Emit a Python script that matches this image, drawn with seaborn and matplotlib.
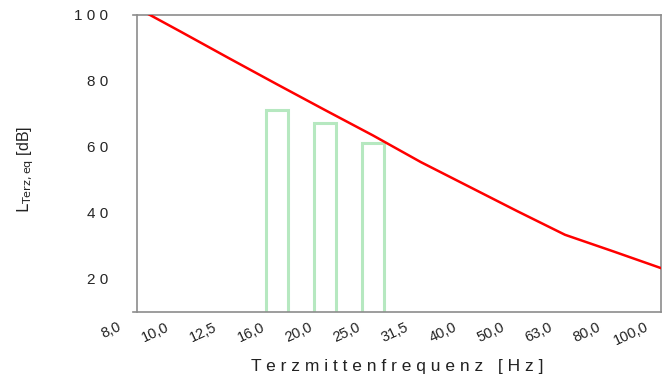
import numpy as np
import pandas as pd
import matplotlib
matplotlib.use("Agg")
import matplotlib.pyplot as plt
import matplotlib.transforms as mtransforms
import seaborn as sns

# ---- data ----
freq_labels = ["8,0", "10,0", "12,5", "16,0", "20,0", "25,0", "31,5",
               "40,0", "50,0", "63,0", "80,0", "100,0"]
threshold_db = [102.8, 94.9, 86.9, 79.0, 71.2, 63.5, 55.4,
                48.0, 40.6, 33.4, 28.4, 23.3]
bar_labels = ["16,0", "20,0", "25,0"]
bar_db = [71.1, 67.2, 61.1]
y_ticks = [20, 40, 60, 80, 100]
y_tick_labels = ["2 0", "4 0", "6 0", "8 0", "1 0 0"]

sns.set_theme(style="white")
plt.rcParams["font.family"] = ["Liberation Sans", "DejaVu Sans"]

fig = plt.figure(figsize=(6.69, 3.81), dpi=100)
ax = fig.add_axes([133 / 669, 1 - 312 / 381, (661 - 133) / 669, (312 - 15) / 381])

bars = pd.DataFrame({"freq": bar_labels, "level": bar_db})
sns.barplot(data=bars, x="freq", y="level", order=freq_labels, ax=ax,
            fill=False, color="#b6e8c0", linewidth=2.2, width=0.44, errorbar=None)

line = pd.DataFrame({"pos": np.arange(len(freq_labels)), "level": threshold_db})
sns.lineplot(data=line, x="pos", y="level", ax=ax, color="#ff0000", linewidth=1.8,
             zorder=5)

ax.set_xlim(0, len(freq_labels) - 1)
ax.set_ylim(10, 100)
ax.set_xticks(np.arange(len(freq_labels)))
ax.set_xticklabels([])
# rotated category labels, right end slightly left of each tick
lbl_trans = ax.get_xaxis_transform() + mtransforms.ScaledTranslation(
    -10 / 100, -8 / 100, fig.dpi_scale_trans)
for i, lab in enumerate(freq_labels):
    ax.text(i, 0, lab, transform=lbl_trans, rotation=25, ha="right", va="top",
            rotation_mode="default", fontsize=10.5, color="#222222")

ax.set_yticks(y_ticks)
ax.set_yticklabels(y_tick_labels, fontsize=11, color="#222222")

ax.spines["left"].set_position(("data", 4 / 48))
for s in ["left", "right", "top", "bottom"]:
    ax.spines[s].set_visible(True)
    ax.spines[s].set_color("#8c8c8c")
    ax.spines[s].set_linewidth(1.2)

ax.tick_params(axis="x", direction="out", length=5, width=1.2, color="#8c8c8c", pad=3)
ax.tick_params(axis="y", direction="out", length=7, width=1.2, color="#8c8c8c", pad=14)
ax.grid(False)

ax.set_xlabel("T e r z m i t t e n f r e q u e n z   [ H z ]", fontsize=12.5,
              color="#222222", va="center")
ax.xaxis.set_label_coords(0.5, (312 - 366) / 297)
ax.set_ylabel(r"$\mathrm{L_{Terz,eq}}$ [dB]", fontsize=11.5, color="#222222",
              va="center")
ax.yaxis.set_label_coords((26 - 133) / 528, 0.48)

fig.savefig("out.png", dpi=100)
